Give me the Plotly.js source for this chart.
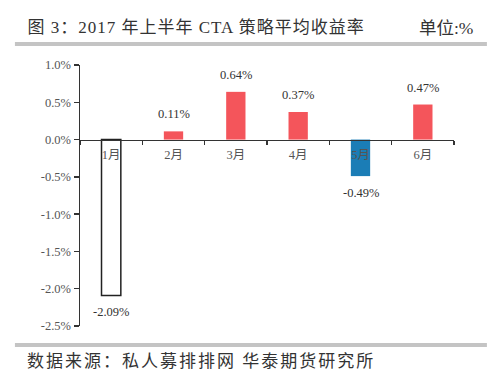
<!DOCTYPE html>
<html>
<head>
<meta charset="utf-8">
<script src="https://cdn.plot.ly/plotly-3.0.1.min.js"></script>
<style>
html,body{margin:0;padding:0;background:#fff;}
#chart{width:500px;height:384px;}
g.annotation[data-index="0"] text{letter-spacing:1px;}
g.annotation[data-index="2"] text{letter-spacing:2px;}
</style>
</head>
<body>
<div id="chart"></div>
<script>
const months = ['1月', '2月', '3月', '4月', '5月', '6月'];
const returns = [-2.09, 0.11, 0.64, 0.37, -0.49, 0.47];
const barColors = ['#ffffff', '#f4555b', '#f4555b', '#f4555b', '#1b7db6', '#f4555b'];
const lineColors = ['#222222', '#f4555b', '#f4555b', '#f4555b', '#1b7db6', '#f4555b'];
const lineWidths = [1.5, 0, 0, 0, 0, 0];
const yTicks = [1.0, 0.5, 0.0, -0.5, -1.0, -1.5, -2.0, -2.5];
const yTickLabels = ['1.0%', '0.5%', '0.0%', '-0.5%', '-1.0%', '-1.5%', '-2.0%', '-2.5%'];
const titleText = '图 3：2017 年上半年 CTA 策略平均收益率';
const unitText = '单位:%';
const sourceText = '数据来源：私人募排排网 华泰期货研究所';

const serif = '"Liberation Serif", "DejaVu Serif", "Noto Sans CJK SC", serif';
const cjk = '"Liberation Serif", "Noto Sans CJK SC", serif';

const yMin = -2.5, yMax = 1.0;

const trace = {
  type: 'bar',
  x: months,
  y: returns,
  width: 0.31,
  marker: {color: barColors, line: {color: lineColors, width: lineWidths}},
  cliponaxis: false,
  hoverinfo: 'skip'
};

const valueLabels = months.map((m, i) => ({
  xref: 'x', yref: 'y', x: m, y: returns[i],
  text: returns[i].toFixed(2) + '%',
  showarrow: false,
  xanchor: 'center',
  yanchor: returns[i] >= 0 ? 'bottom' : 'top',
  yshift: returns[i] >= 0 ? 8 : -8,
  font: {family: serif, size: 12.5, color: '#333333'}
}));

const layout = {
  width: 500, height: 384,
  margin: {l: 80, r: 46, t: 65, b: 58},
  paper_bgcolor: '#ffffff', plot_bgcolor: '#ffffff',
  showlegend: false,
  xaxis: {
    type: 'category',
    anchor: 'free',
    position: (0 - yMin) / (yMax - yMin),
    showline: true, linecolor: '#333333', linewidth: 1.5,
    ticks: 'outside', ticklen: 4, tickwidth: 1.5, tickcolor: '#333333',
    tickson: 'boundaries',
    showgrid: false, zeroline: false,
    ticklabelstandoff: 3,
    tickfont: {family: cjk, size: 12.5, color: '#555555'},
    range: [-0.5, 5.5], fixedrange: true
  },
  yaxis: {
    range: [yMin, yMax],
    tickvals: yTicks, ticktext: yTickLabels,
    showline: true, linecolor: '#333333', linewidth: 1.5,
    ticks: 'outside', ticklen: 5, tickwidth: 1.5, tickcolor: '#333333',
    showgrid: false, zeroline: false,
    tickfont: {family: serif, size: 12.5, color: '#555555'},
    fixedrange: true
  },
  shapes: [
    {type: 'line', xref: 'paper', yref: 'paper', x0: -0.174, x1: 1.088, y0: 1.0805, y1: 1.0805,
     line: {color: '#c4c4c4', width: 4}},
    {type: 'line', xref: 'paper', yref: 'paper', x0: -0.174, x1: 1.088, y0: -0.0728, y1: -0.0728,
     line: {color: '#c4c4c4', width: 4}}
  ],
  annotations: [
    {xref: 'paper', yref: 'paper', x: -0.139, y: (326 - 28) / 261, xanchor: 'left', yanchor: 'middle',
     xshift: 10,
     text: titleText, showarrow: false,
     font: {family: cjk, size: 17, color: '#333333'}},
    {xref: 'paper', yref: 'paper', x: 1.056, y: (326 - 28) / 261, xanchor: 'right', yanchor: 'middle',
     text: unitText, showarrow: false,
     font: {family: cjk, size: 17.5, color: '#333333'}},
    {xref: 'paper', yref: 'paper', x: -0.142, y: (326 - 361) / 261, xanchor: 'left', yanchor: 'middle',
     xshift: 17,
     text: sourceText, showarrow: false,
     font: {family: cjk, size: 17, color: '#333333'}}
  ].concat(valueLabels)
};

Plotly.newPlot('chart', [trace], layout, {displayModeBar: false, staticPlot: true});
</script>
</body>
</html>
